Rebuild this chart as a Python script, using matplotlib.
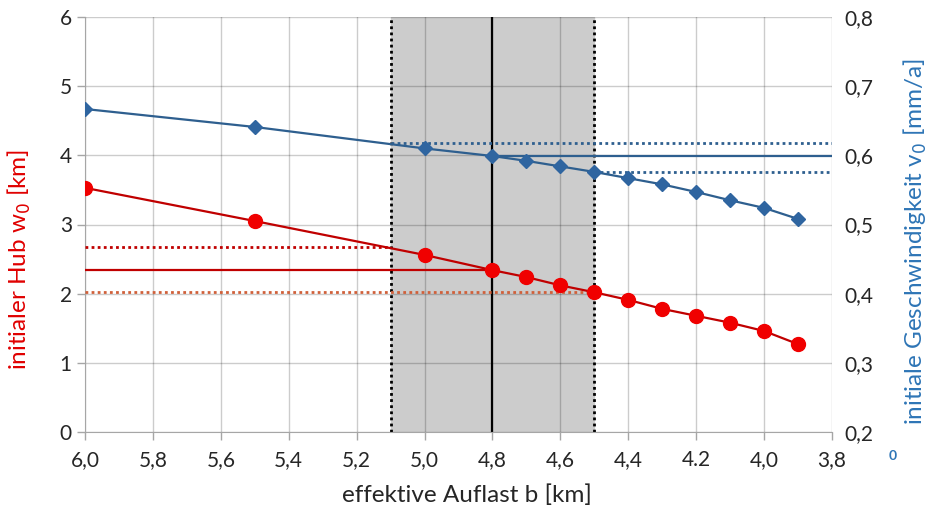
import matplotlib
matplotlib.use("Agg")
import matplotlib.pyplot as plt

plt.rcParams['font.family'] = ['Lato', 'DejaVu Sans']

# effektive Auflast b [km]
b = [6.0, 5.5, 5.0, 4.8, 4.7, 4.6, 4.5, 4.4, 4.3, 4.2, 4.1, 4.0, 3.9]
# initialer Hub w0 [km]
w0 = [3.53, 3.05, 2.56, 2.34, 2.24, 2.12, 2.02, 1.91, 1.78, 1.68, 1.58, 1.46, 1.27]
# initiale Geschwindigkeit v0 [mm/a]
v0 = [0.667, 0.641, 0.610, 0.599, 0.592, 0.584, 0.576, 0.567, 0.558, 0.547, 0.535, 0.524, 0.508]

b_best, b_lo, b_hi = 4.8, 5.1, 4.5
w_best, w_hi, w_lo = 2.34, 2.67, 2.02
v_best, v_hi, v_lo = 0.599, 0.618, 0.576

xticks = [6.0, 5.8, 5.6, 5.4, 5.2, 5.0, 4.8, 4.6, 4.4, 4.2, 4.0, 3.8]
xlabels = ["6,0", "5,8", "5,6", "5,4", "5,2", "5,0", "4,8", "4,6", "4,4", "4.2", "4,0", "3,8"]
yticks = [0, 1, 2, 3, 4, 5, 6]
y2ticks = [0.2, 0.3, 0.4, 0.5, 0.6, 0.7, 0.8]
y2labels = ["0,2", "0,3", "0,4", "0,5", "0,6", "0,7", "0,8"]

red_line = '#C00000'
red_mark = '#F00000'
blue = '#2E5F8F'
blue_mark = '#2F65A0'
blue_text = '#2E75B6'

fig = plt.figure(figsize=(9.3, 5.14), dpi=100)
ax = fig.add_axes([85/930, 1 - 432/514, (832-85)/930, (432-17)/514])
ax2 = ax.twinx()

ax.axvspan(b_lo, b_hi, color='#CCCCCC', zorder=0)
ax.set_axisbelow(True)
ax.grid(True, color='black', alpha=0.2, lw=1)

ax.axvline(b_best, color='black', lw=1.6, zorder=2)
ax.axvline(b_lo, color='black', lw=2, ls=(0, (1, 1.2)), zorder=2)
ax.axvline(b_hi, color='black', lw=2, ls=(0, (1, 1.2)), zorder=2)

# horizontal reference lines (left axis)
ax.plot([6.0, b_best], [w_best, w_best], color=red_line, lw=1.6, zorder=3)
ax.plot([6.0, b_lo], [w_hi, w_hi], color=red_line, lw=2, ls=(0, (1, 1.2)), zorder=3)
ax.plot([6.0, b_hi], [w_lo, w_lo], color='#D0603A', lw=2, ls=(0, (1, 1.2)), zorder=3)

ax.plot(b, w0, color=red_line, lw=1.6, marker='o', ms=10,
        mfc=red_mark, mec=red_mark, zorder=4)

# horizontal reference lines (right axis)
ax2.plot([b_best, 3.8], [v_best, v_best], color=blue, lw=1.6, zorder=3)
ax2.plot([b_lo, 3.8], [v_hi, v_hi], color=blue, lw=2, ls=(0, (1, 1.2)), zorder=3)
ax2.plot([b_hi, 3.8], [v_lo, v_lo], color=blue, lw=2, ls=(0, (1, 1.2)), zorder=3)
ax2.plot(b, v0, color=blue, lw=1.6, marker='D', ms=7,
         mfc=blue_mark, mec=blue_mark, zorder=4)

ax.set_xlim(6.0, 3.8)
ax.set_ylim(0, 6)
ax2.set_ylim(0.2, 0.8)
ax.set_xticks(xticks)
ax.set_xticklabels(xlabels)
ax.set_yticks(yticks)
ax2.set_yticks(y2ticks)
ax2.set_yticklabels(y2labels)

for a in (ax, ax2):
    for s in a.spines.values():
        s.set_visible(False)
ax.spines['left'].set_visible(True)
ax.spines['left'].set_color('#A6A6A6')
ax.spines['bottom'].set_visible(True)
ax.spines['bottom'].set_color('#A6A6A6')

ax.tick_params(axis='both', labelsize=15, colors='#A6A6A6', labelcolor='#262626',
               length=6, width=1)
ax.tick_params(axis='x', pad=7)
ax2.tick_params(axis='y', labelsize=15, length=0, labelcolor='#262626', pad=9)

# axis titles placed in figure pixels
fig.text(467/930, 1 - 495/514, "effektive Auflast b [km]", fontsize=17.5,
         color='#262626', ha='center', va='center')
fig.text(19/930, 1 - 259/514, "initialer Hub w$_0$ [km]", fontsize=17.5,
         color='#E00000', ha='center', va='center', rotation=90)
fig.text(915/930, 1 - 242/514, "initiale Geschwindigkeit v$_0$ [mm/a]", fontsize=17.5,
         color=blue_text, ha='center', va='center', rotation=90)

fig.text(893/930, 1 - 456/514, "0", color=blue_text, fontsize=10, fontweight='bold',
         ha='center', va='center')

fig.savefig("out.png", dpi=100)
